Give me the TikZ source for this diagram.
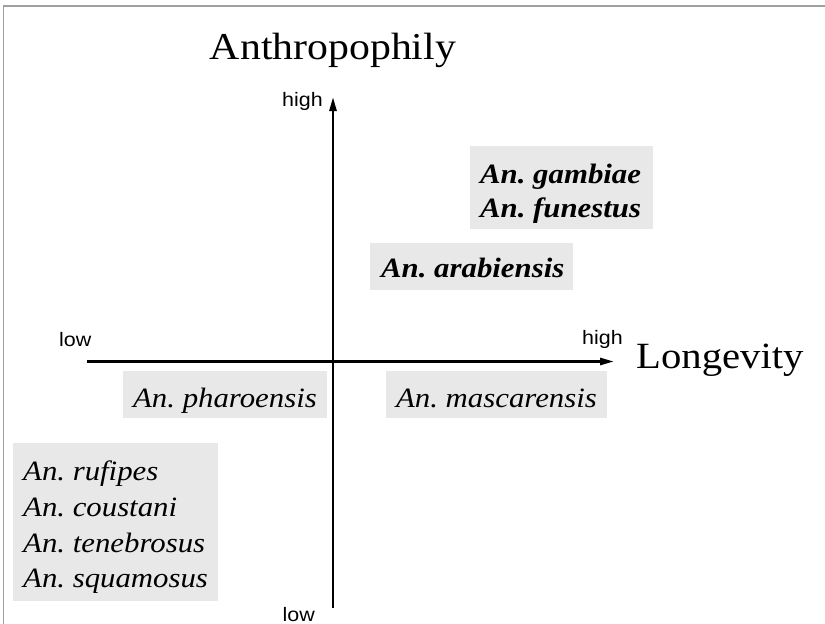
\documentclass[tikz,border=0pt]{standalone}
\usepackage{fontspec}
\setmainfont{Liberation Serif}[FakeStretch=1.1]
\setsansfont{Liberation Sans}[FakeStretch=1.1]
\usetikzlibrary{arrows.meta}
\definecolor{boxgray}{RGB}{232,232,232}
\definecolor{framegray}{RGB}{160,160,160}
\begin{document}
\begin{tikzpicture}[x=1pt,y=-1pt,
  spbox/.style={fill=boxgray, draw=none, inner sep=0pt, anchor=north west},
  sp/.style={font=\fontsize{28}{34}\selectfont\frenchspacing\itshape, inner sep=0pt},
  spb/.style={font=\fontsize{28}{34}\selectfont\frenchspacing\bfseries\itshape, inner sep=0pt},
  lvl/.style={font=\fontsize{19.5}{22}\selectfont\sffamily, inner sep=0pt},
  axisline/.style={line width=2.6pt, -{Triangle[length=14pt,width=7pt]}},
  big/.style={inner sep=0pt},
]
\useasboundingbox (0,0) rectangle (825,624);
\draw[framegray, line width=1.6pt] (3.5,640) -- (3.5,6) -- (840,6);

% boxes
\node[spbox, minimum width=183pt, minimum height=83pt] (bgf) at (470,146) {};
\node[spbox, minimum width=203pt, minimum height=47pt] (bar) at (370,243) {};
\node[spbox, minimum width=204pt, minimum height=47pt] (bph) at (123,371) {};
\node[spbox, minimum width=221pt, minimum height=47pt] (bma) at (386,371) {};
\node[spbox, minimum width=205pt, minimum height=158pt] (bmu) at (13,443) {};

% species
\node[spb, anchor=base west] (tgam) at (480,183) {An. gambiae};
\node[spb, anchor=base west] (tfun) at (480,217) {An. funestus};
\node[spb, anchor=base west] (tara) at (381,277) {An. arabiensis};
\node[sp, anchor=base] (tpha) at (225,407) {An. pharoensis};
\node[sp, anchor=base] (tmas) at (496.5,407) {An. mascarensis};
\node[sp, anchor=base west] (truf) at (23,480) {An. rufipes};
\node[sp, anchor=base west] (tcou) at (23,516) {An. coustani};
\node[sp, anchor=base west] (tten) at (23,552) {An. tenebrosus};
\node[sp, anchor=base west] (tsqu) at (23,587) {An. squamosus};

% axes
\coordinate (vb) at (333,608);
\coordinate (vt) at (333,97);
\coordinate (hl) at (87,361.5);
\coordinate (hr) at (614,361.5);
\draw[axisline] (vb) -- (vt);
\draw[axisline] (hl) -- (hr);

% labels
\node[lvl, anchor=base east] (vhigh) at (323,106) {high};
\node[lvl, anchor=base west] (hlow) at (59,346) {low};
\node[lvl, anchor=base west] (hhigh) at (582,344) {high};
\node[lvl, anchor=base east] (vlow) at (315,621) {low};
\node[big, font=\fontsize{38}{44}\selectfont, anchor=base] (ttl) at (333,59) {Anthropophily};
\node[big, font=\fontsize{37}{44}\selectfont, anchor=base west] (lng) at (636,368) {Longevity};
\end{tikzpicture}
\end{document}
